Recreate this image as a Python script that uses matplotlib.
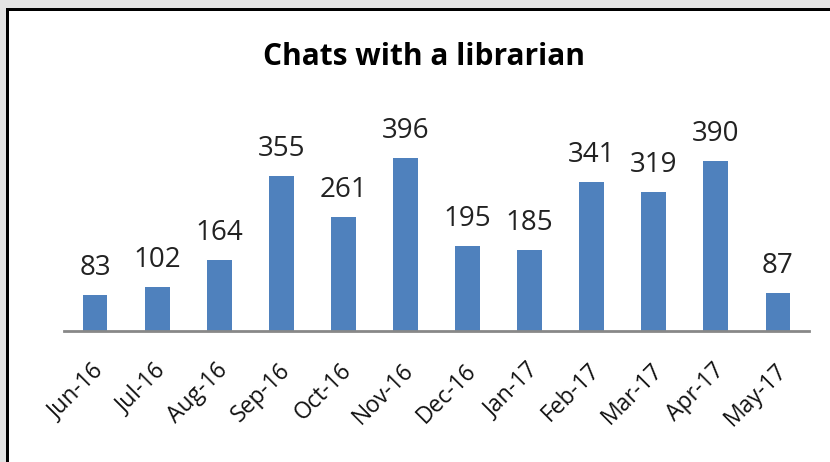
import matplotlib.pyplot as plt
from matplotlib.patches import Rectangle
from matplotlib.transforms import ScaledTranslation

months = ['Jun-16', 'Jul-16', 'Aug-16', 'Sep-16', 'Oct-16', 'Nov-16',
          'Dec-16', 'Jan-17', 'Feb-17', 'Mar-17', 'Apr-17', 'May-17']
chats = [83, 102, 164, 355, 261, 396, 195, 185, 341, 319, 390, 87]

W, H = 830, 462
plt.rcParams['font.family'] = ['Open Sans', 'DejaVu Sans']

fig = plt.figure(figsize=(W / 100, H / 100), dpi=100, facecolor='#e3e3e3')

# white chart area with the dark frame on top and left
fig.add_artist(Rectangle((8 / W, 0), 1, (H - 10) / H, transform=fig.transFigure,
                         facecolor='white', edgecolor='none', zorder=0))
fig.add_artist(Rectangle((6 / W, (H - 11) / H), 1, 3 / H, transform=fig.transFigure,
                         facecolor='black', edgecolor='none', zorder=1))
fig.add_artist(Rectangle((6 / W, 0), 3 / W, (H - 8) / H, transform=fig.transFigure,
                         facecolor='black', edgecolor='none', zorder=1))

ax = fig.add_axes([64 / W, (H - 331) / H, (809 - 64) / W, (331 - 100) / H])
ax.set_facecolor('none')
x = range(len(months))
ax.bar(x, chats, width=0.4, color='#4f81bd')
ax.set_xlim(-0.5, len(months) - 0.5)
ax.set_ylim(0, 530)

for i, v in enumerate(chats):
    ax.annotate(str(v), (i, v), xytext=(0, 14.4), textcoords='offset points',
                ha='center', va='baseline', fontsize=20, color='#222222')

for s in ['top', 'right', 'left']:
    ax.spines[s].set_visible(False)
ax.spines['bottom'].set_color('#888888')
ax.spines['bottom'].set_linewidth(2)
ax.set_yticks([])
ax.set_xticks(list(x))
ax.set_xticklabels(months, rotation=45, ha='right', va='center',
                   rotation_mode='anchor', fontsize=16.5, color='#111111')
ax.tick_params(axis='x', length=0, pad=26)
shift = ScaledTranslation(0.05, 0, fig.dpi_scale_trans)
for lbl in ax.get_xticklabels():
    lbl.set_transform(lbl.get_transform() + shift)

fig.text(424 / W, 1 - 65 / H, 'Chats with a librarian', ha='center', va='baseline',
         fontsize=21.5, fontweight='bold', color='black')

fig.savefig('out.png', dpi=100, facecolor=fig.get_facecolor())
